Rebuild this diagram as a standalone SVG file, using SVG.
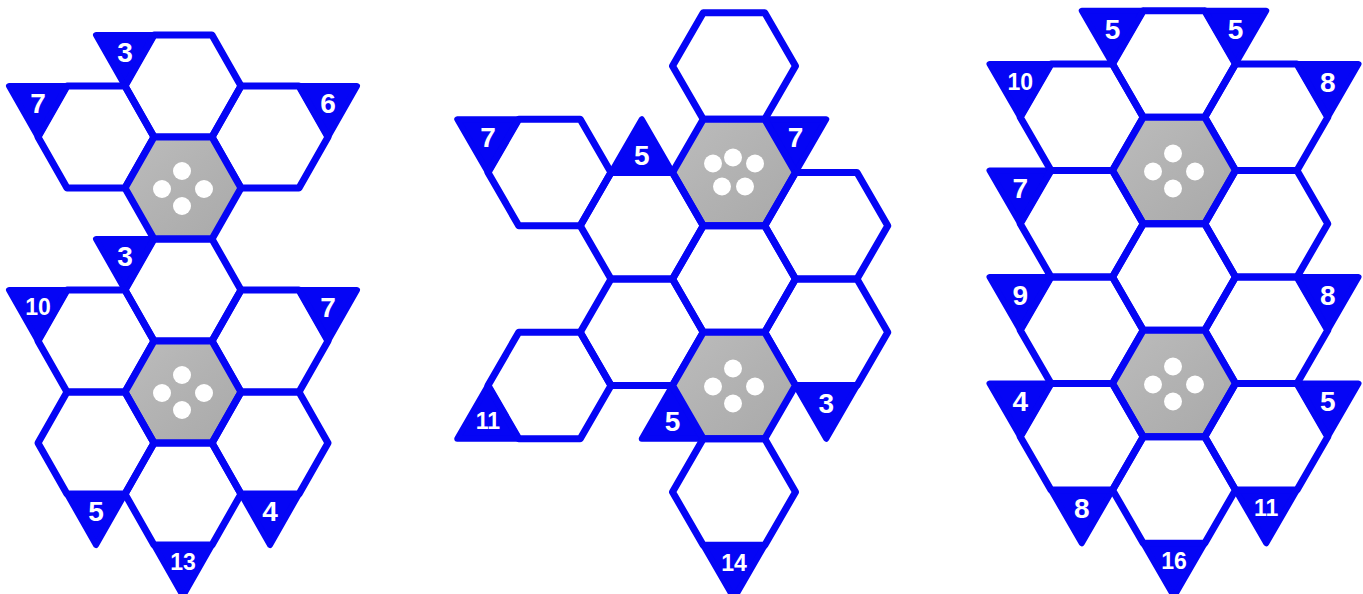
<svg xmlns="http://www.w3.org/2000/svg" xmlns:xlink="http://www.w3.org/1999/xlink" width="1363" height="594" viewBox="0 0 1363 594">
<style>
.hex{fill:none;stroke:#0505f5;stroke-width:7;stroke-linejoin:round}
.g{fill:url(#grayfill);stroke:#0505f5;stroke-width:7;stroke-linejoin:round}
.tri{fill:#0505f5;stroke:#0505f5;stroke-width:6;stroke-linejoin:round}
.dot{fill:#ffffff}
.n1{font-family:"Liberation Sans",Arial,sans-serif;font-weight:bold;font-size:28px;fill:#ffffff;text-anchor:middle}
.n2{font-family:"Liberation Sans",Arial,sans-serif;font-weight:bold;font-size:23px;fill:#ffffff;text-anchor:middle}
</style>
<defs>
<linearGradient id="grayfill" x1="0" y1="0" x2="1" y2="1">
<stop offset="0" stop-color="#bcbcbc"/>
<stop offset="0.5" stop-color="#b2b2b2"/>
<stop offset="1" stop-color="#a9a9a9"/>
</linearGradient>
<path id="h1" d="M-58 0L-29 -51L29 -51L58 0L29 51L-29 51Z"/>
<path id="h2" d="M-61.5 0L-30.75 -53.25L30.75 -53.25L61.5 0L30.75 53.25L-30.75 53.25Z"/>
<path id="ul1" d="M-87 -51L-29 -51L-58 0Z"/>
<path id="ur1" d="M87 -51L29 -51L58 0Z"/>
<path id="dn1" d="M-29 51L29 51L0 102Z"/>
<path id="ul2" d="M-92.25 -53.25L-30.75 -53.25L-61.5 0Z"/>
<path id="ur2" d="M92.25 -53.25L30.75 -53.25L61.5 0Z"/>
<path id="ll2" d="M-61.5 0L-30.75 53.25L-92.25 53.25Z"/>
<path id="dn2" d="M-30.75 53.25L30.75 53.25L0 106.5Z"/>
<path id="up2" d="M-30.75 -53.25L30.75 -53.25L0 -106.5Z"/>
<g id="dots4">
<circle class="dot" cx="-1" cy="-17" r="9"/>
<circle class="dot" cx="-21" cy="1" r="9"/>
<circle class="dot" cx="21" cy="1" r="9"/>
<circle class="dot" cx="-1" cy="18" r="9"/>
</g>
<g id="dots5">
<circle class="dot" cx="-21" cy="-9" r="9"/>
<circle class="dot" cx="-1" cy="-15" r="9"/>
<circle class="dot" cx="21" cy="-9" r="9"/>
<circle class="dot" cx="-12" cy="14" r="9"/>
<circle class="dot" cx="11" cy="14" r="9"/>
</g>
</defs>
<rect width="1363" height="594" fill="#ffffff"/>

<!-- Puzzle 1 -->
<g id="puzzle1">
<g id="p1-clues">
<use href="#ul1" class="tri" x="183" y="86"/>
<use href="#ul1" class="tri" x="96" y="137"/>
<use href="#ur1" class="tri" x="270" y="137"/>
<use href="#ul1" class="tri" x="183" y="290"/>
<use href="#ul1" class="tri" x="96" y="341"/>
<use href="#ur1" class="tri" x="270" y="341"/>
<use href="#dn1" class="tri" x="96" y="443"/>
<use href="#dn1" class="tri" x="183" y="494"/>
<use href="#dn1" class="tri" x="270" y="443"/>
</g>
<g id="p1-h1"><use href="#h1" class="hex" x="183" y="86"/></g>
<g id="p1-h2"><use href="#h1" class="hex" x="96" y="137"/></g>
<g id="p1-h3"><use href="#h1" class="hex" x="270" y="137"/></g>
<g id="p1-g1"><use href="#h1" class="g" x="183" y="188"/><use href="#dots4" x="183" y="188"/></g>
<g id="p1-h4"><use href="#h1" class="hex" x="183" y="290"/></g>
<g id="p1-h5"><use href="#h1" class="hex" x="96" y="341"/></g>
<g id="p1-h6"><use href="#h1" class="hex" x="270" y="341"/></g>
<g id="p1-g2"><use href="#h1" class="g" x="183" y="392"/><use href="#dots4" x="183" y="392"/></g>
<g id="p1-h7"><use href="#h1" class="hex" x="96" y="443"/></g>
<g id="p1-h8"><use href="#h1" class="hex" x="270" y="443"/></g>
<g id="p1-h9"><use href="#h1" class="hex" x="183" y="494"/></g>
<g id="p1-labels">
<text class="n1" x="125" y="62">3</text>
<text class="n1" x="38" y="113">7</text>
<text class="n1" x="328" y="113">6</text>
<text class="n1" x="125" y="266">3</text>
<text class="n2" x="38" y="315">10</text>
<text class="n1" x="328" y="317">7</text>
<text class="n1" x="96" y="521">5</text>
<text class="n2" x="183" y="570">13</text>
<text class="n1" x="270" y="521">4</text>
</g>
</g>

<!-- Puzzle 2 -->
<g id="puzzle2">
<g id="p2-clues">
<use href="#ul2" class="tri" x="549.5" y="172.5"/>
<use href="#ur2" class="tri" x="734" y="172.5"/>
<use href="#up2" class="tri" x="641.75" y="225.75"/>
<use href="#dn2" class="tri" x="826.25" y="332.25"/>
<use href="#ll2" class="tri" x="549.5" y="385.5"/>
<use href="#ll2" class="tri" x="734" y="385.5"/>
<use href="#dn2" class="tri" x="734" y="492"/>
</g>
<g id="p2-h1"><use href="#h2" class="hex" x="734" y="66"/></g>
<g id="p2-h2"><use href="#h2" class="hex" x="549.5" y="172.5"/></g>
<g id="p2-g1"><use href="#h2" class="g" x="734" y="172.5"/><use href="#dots5" x="734" y="172.5"/></g>
<g id="p2-h3"><use href="#h2" class="hex" x="641.75" y="225.75"/></g>
<g id="p2-h4"><use href="#h2" class="hex" x="826.25" y="225.75"/></g>
<g id="p2-h5"><use href="#h2" class="hex" x="734" y="279"/></g>
<g id="p2-h6"><use href="#h2" class="hex" x="641.75" y="332.25"/></g>
<g id="p2-h7"><use href="#h2" class="hex" x="826.25" y="332.25"/></g>
<g id="p2-h8"><use href="#h2" class="hex" x="549.5" y="385.5"/></g>
<g id="p2-g2"><use href="#h2" class="g" x="734" y="385.5"/><use href="#dots4" x="734" y="385.5"/></g>
<g id="p2-h9"><use href="#h2" class="hex" x="734" y="492"/></g>
<g id="p2-labels">
<text class="n1" x="488" y="147">7</text>
<text class="n1" x="795.5" y="147">7</text>
<text class="n1" x="641.75" y="165">5</text>
<text class="n1" x="826.25" y="413">3</text>
<text class="n2" x="488" y="429">11</text>
<text class="n1" x="672.5" y="431">5</text>
<text class="n2" x="734" y="571">14</text>
</g>
</g>

<!-- Puzzle 3 -->
<g id="puzzle3">
<g id="p3-clues">
<use href="#ul2" class="tri" x="1174" y="64"/>
<use href="#ur2" class="tri" x="1174" y="64"/>
<use href="#ul2" class="tri" x="1081.75" y="117.25"/>
<use href="#ur2" class="tri" x="1266.25" y="117.25"/>
<use href="#ul2" class="tri" x="1081.75" y="223.75"/>
<use href="#ul2" class="tri" x="1081.75" y="330.25"/>
<use href="#ur2" class="tri" x="1266.25" y="330.25"/>
<use href="#ul2" class="tri" x="1081.75" y="436.75"/>
<use href="#ur2" class="tri" x="1266.25" y="436.75"/>
<use href="#dn2" class="tri" x="1081.75" y="436.75"/>
<use href="#dn2" class="tri" x="1266.25" y="436.75"/>
<use href="#dn2" class="tri" x="1174" y="490"/>
</g>
<g id="p3-h1"><use href="#h2" class="hex" x="1174" y="64"/></g>
<g id="p3-h2"><use href="#h2" class="hex" x="1081.75" y="117.25"/></g>
<g id="p3-h3"><use href="#h2" class="hex" x="1266.25" y="117.25"/></g>
<g id="p3-g1"><use href="#h2" class="g" x="1174" y="170.5"/><use href="#dots4" x="1174" y="170.5"/></g>
<g id="p3-h4"><use href="#h2" class="hex" x="1081.75" y="223.75"/></g>
<g id="p3-h5"><use href="#h2" class="hex" x="1266.25" y="223.75"/></g>
<g id="p3-h6"><use href="#h2" class="hex" x="1174" y="277"/></g>
<g id="p3-h7"><use href="#h2" class="hex" x="1081.75" y="330.25"/></g>
<g id="p3-h8"><use href="#h2" class="hex" x="1266.25" y="330.25"/></g>
<g id="p3-g2"><use href="#h2" class="g" x="1174" y="383.5"/><use href="#dots4" x="1174" y="383.5"/></g>
<g id="p3-h9"><use href="#h2" class="hex" x="1081.75" y="436.75"/></g>
<g id="p3-h10"><use href="#h2" class="hex" x="1266.25" y="436.75"/></g>
<g id="p3-h11"><use href="#h2" class="hex" x="1174" y="490"/></g>
<g id="p3-labels">
<text class="n1" x="1112.5" y="38.5">5</text>
<text class="n1" x="1235.5" y="38.5">5</text>
<text class="n2" x="1020.25" y="90">10</text>
<text class="n1" x="1327.75" y="92">8</text>
<text class="n1" x="1020.25" y="198">7</text>
<text class="n1" x="1020.25" y="305">9</text>
<text class="n1" x="1327.75" y="305">8</text>
<text class="n1" x="1020.25" y="411">4</text>
<text class="n1" x="1327.75" y="411">5</text>
<text class="n1" x="1081.75" y="518">8</text>
<text class="n2" x="1266.25" y="516">11</text>
<text class="n2" x="1174" y="569">16</text>
</g>
</g>
<g id="connectors"/>
</svg>
